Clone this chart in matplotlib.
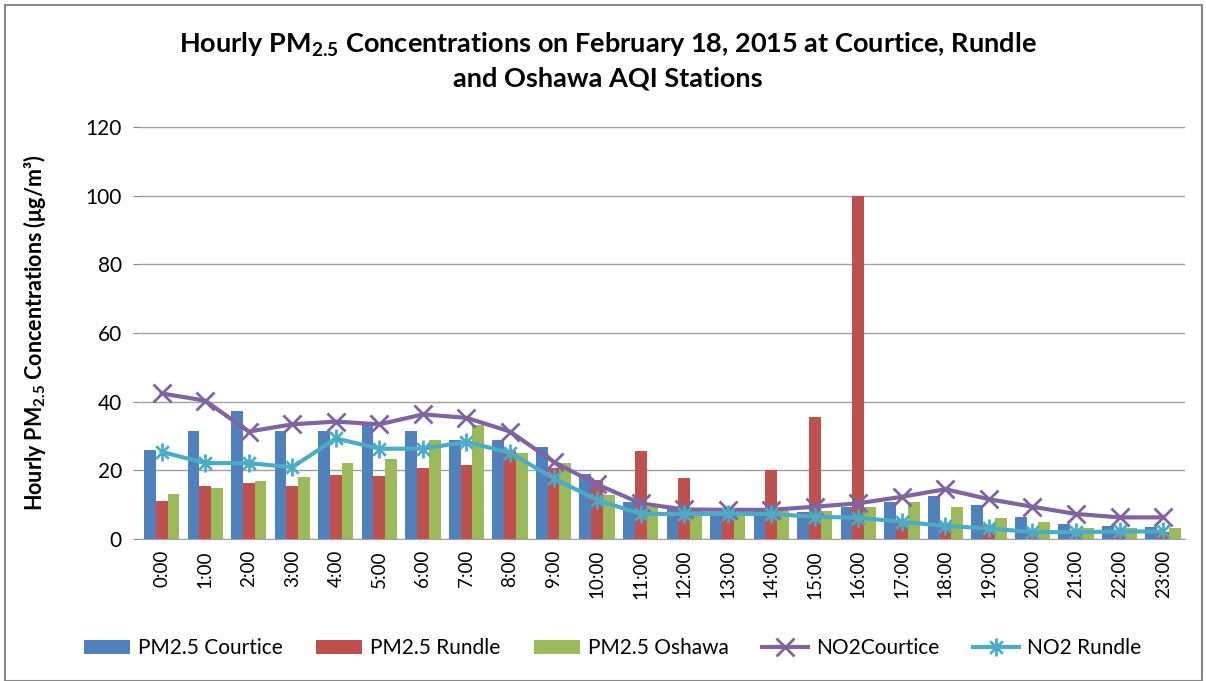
import numpy as np
import matplotlib
matplotlib.use("Agg")
import matplotlib.pyplot as plt
from matplotlib.path import Path
from matplotlib.patches import Rectangle

plt.rcParams["font.family"] = ["Lato", "DejaVu Sans"]
plt.rcParams["mathtext.fontset"] = "custom"
plt.rcParams["mathtext.rm"] = "Lato"
plt.rcParams["mathtext.bf"] = "Lato:bold"

hours = [f"{h}:00" for h in range(24)]

pm_courtice = [26, 31.4, 37.2, 31.4, 31.4, 33.5, 31.4, 28.9, 28.9, 26.9, 18.8, 10.9,
               8.9, 8.0, 8.2, 8.0, 9.4, 10.9, 12.6, 9.9, 6.5, 4.4, 3.8, 3.6]
pm_rundle = [11, 15.3, 16.3, 15.3, 18.7, 18.3, 20.8, 21.5, 25.6, 20.6, 17.2, 25.6,
             17.7, 7.5, 20.1, 35.4, 100, 4.6, 4.6, 4.1, 2.5, 2.0, 2.0, 2.0]
pm_oshawa = [13, 15.0, 17.0, 18.1, 22.1, 23.2, 28.9, 33.2, 25.0, 22.1, 12.8, 9.2,
             8.4, 6.7, 8.2, 8.2, 9.2, 10.9, 9.2, 6.2, 5.0, 3.1, 3.1, 3.1]
no2_courtice = [42.4, 40.3, 31.3, 33.4, 34.2, 33.4, 36.3, 35.3, 31.3, 22.5, 15.9, 10.4,
                8.6, 8.5, 8.5, 9.4, 10.4, 12.3, 14.5, 11.6, 9.4, 7.3, 6.3, 6.3]
no2_rundle = [25.4, 22.1, 22.1, 20.9, 29.3, 26.3, 26.3, 28.3, 25.1, 17.7, 11.4, 7.3,
              7.3, 7.3, 7.3, 6.5, 6.2, 5.0, 3.8, 3.1, 2.0, 2.0, 2.2, 2.2]

# asterisk marker like Excel's (vertical line plus an x)
star_verts = [(0, -1), (0, 1), (-0.7, -0.7), (0.7, 0.7), (-0.7, 0.7), (0.7, -0.7)]
star_codes = [Path.MOVETO, Path.LINETO] * 3
asterisk = Path(star_verts, star_codes)

fig = plt.figure(figsize=(12.06, 6.81), dpi=100)
ax = fig.add_axes([0.116, 0.2085, 0.8665, 0.605])

x = np.arange(len(hours))
w = 0.27
b1 = ax.bar(x - w, pm_courtice, w, color="#4F81BD", label="PM2.5 Courtice", zorder=2)
b2 = ax.bar(x, pm_rundle, w, color="#C0504D", label="PM2.5 Rundle", zorder=2)
b3 = ax.bar(x + w, pm_oshawa, w, color="#9BBB59", label="PM2.5 Oshawa", zorder=2)
l1, = ax.plot(x, no2_courtice, color="#8064A2", lw=3, marker="x", ms=13, mew=2,
              label="NO2Courtice", zorder=3)
l2, = ax.plot(x, no2_rundle, color="#4BACC6", lw=3, marker=asterisk, ms=13, mew=2,
              label="NO2 Rundle", zorder=3)

ax.set_xlim(-0.5, len(hours) - 0.5)
ax.set_ylim(0, 120)
ax.set_yticks(range(0, 121, 20))
ax.set_xticks(x)
ax.set_xticklabels(hours, rotation=90, fontsize=13.5)
ax.tick_params(axis="y", labelsize=15, length=5, color="#888888", pad=8)
ax.tick_params(axis="x", length=0, pad=8)
ax.grid(axis="y", color="#A0A0A0", lw=1, zorder=0)
for s in ["top", "right", "left"]:
    ax.spines[s].set_visible(False)
ax.spines["bottom"].set_color("#A0A0A0")

ax.set_ylabel(r"Hourly PM$_{\mathbf{2.5}}$ Concentrations (μg/m³)",
              fontsize=15.5, fontweight="bold")
ax.yaxis.set_label_coords(-0.088, 0.5)

fig.text(0.504, 0.935, r"Hourly PM$_{\mathbf{2.5}}$ Concentrations on February 18, 2015 at Courtice, Rundle",
         ha="center", va="center", fontsize=19.5, fontweight="bold")
fig.text(0.504, 0.885, "and Oshawa AQI Stations",
         ha="center", va="center", fontsize=19.5, fontweight="bold")

fig.legend([b1, b2, b3, l1, l2],
           ["PM2.5 Courtice", "PM2.5 Rundle", "PM2.5 Oshawa", "NO2Courtice", "NO2 Rundle"],
           loc="center", bbox_to_anchor=(0.508, 0.048), ncol=5, frameon=False,
           fontsize=15, handlelength=2.2, columnspacing=1.6, handletextpad=0.4)

fig.patches.append(Rectangle((0.004, 0.0), 0.993, 0.993, transform=fig.transFigure,
                             fill=False, edgecolor="#888888", lw=1.5))

fig.savefig("out.png", dpi=100)
